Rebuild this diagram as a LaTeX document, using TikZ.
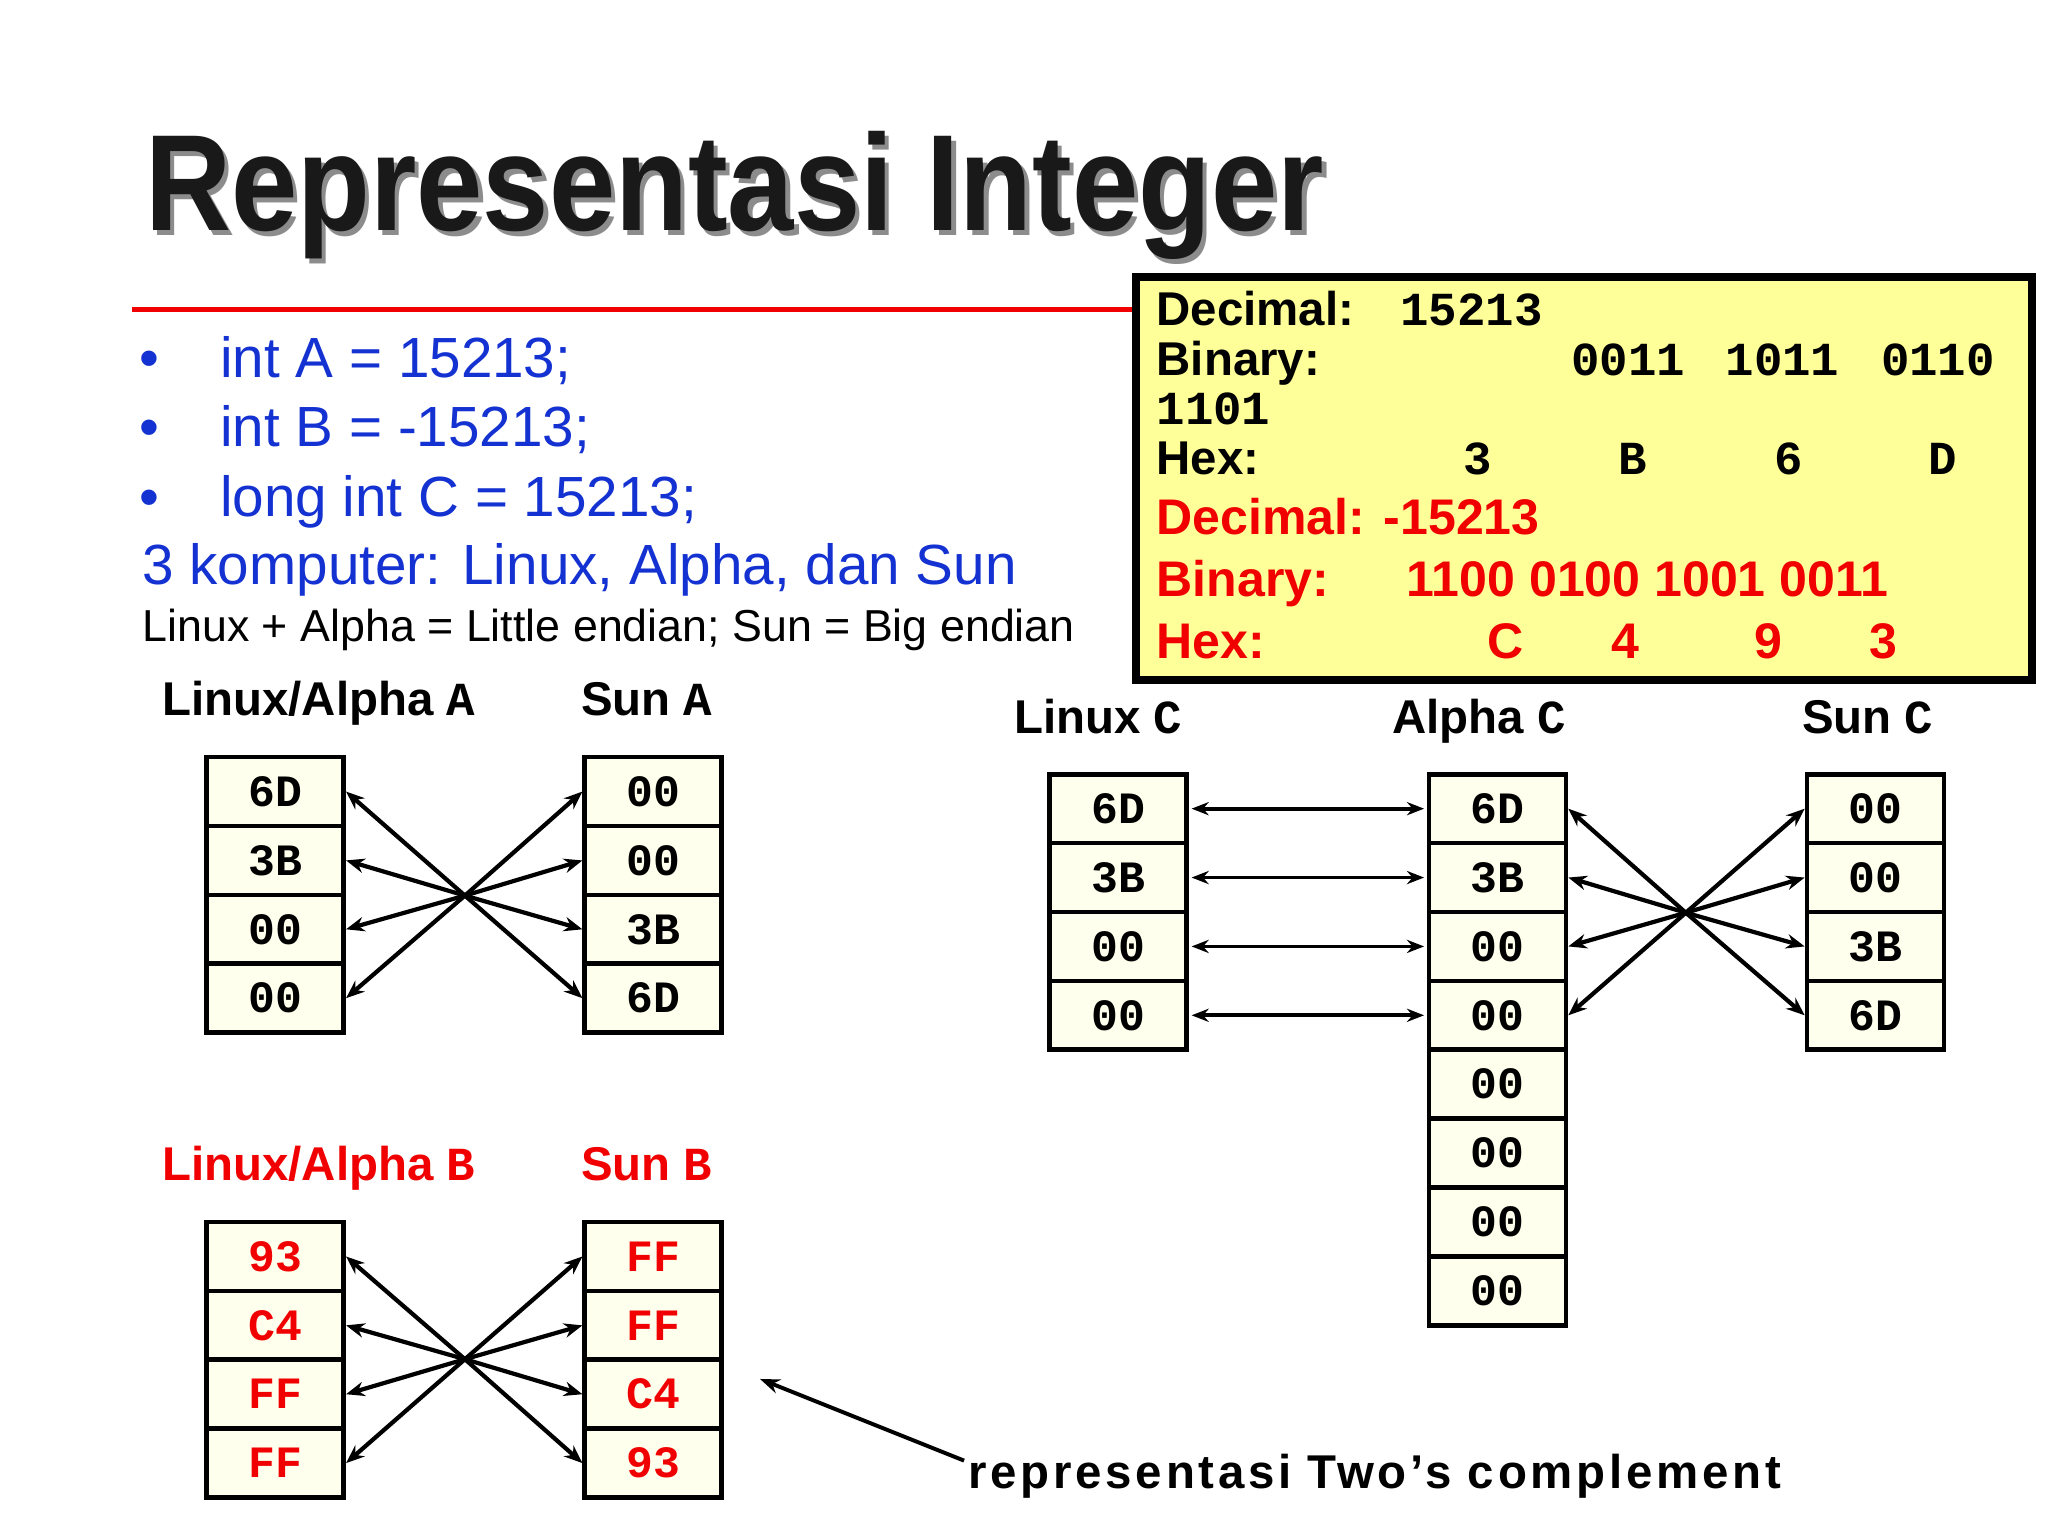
\documentclass[tikz,border=0pt]{standalone}
\usepackage{fontspec}
\setmainfont{Liberation Sans}
\newfontfamily\mono{Liberation Mono}
\usetikzlibrary{arrows.meta}
\definecolor{cream}{RGB}{255,255,238}
\definecolor{boxy}{RGB}{255,255,153}
\definecolor{myblue}{RGB}{20,50,210}
\definecolor{myred}{RGB}{240,0,0}
\begin{document}
\begin{tikzpicture}[x=1pt,y=-1pt,
  cell/.style={draw,line width=3.5pt,fill=cream,minimum width=104pt,minimum height=52.3pt,inner sep=0pt,font=\fontsize{34}{36}\selectfont\mono\bfseries},
  arr/.style={line width=3.2pt,-{Stealth[length=14pt,width=11pt]}},
  darr/.style={line width=2.8pt,{Stealth[length=13pt,width=10pt]}-{Stealth[length=13pt,width=10pt]}},
  lab/.style={anchor=base west,inner sep=0pt,font=\fontsize{36}{40}\selectfont\bfseries},
  bt/.style={anchor=base west,inner sep=0pt,font=\fontsize{36}{40}\selectfont\bfseries},
  bl/.style={anchor=base west,inner sep=0pt,text=myblue,font=\fontsize{43}{46}\selectfont}]
\useasboundingbox[fill=white] (0,0) rectangle (1555,1166.25);
% title
\node[anchor=base west,inner sep=0pt,font=\fontsize{104}{110}\selectfont\bfseries,xscale=0.87] (title) at (110,175) {\textcolor{black!45}{\rlap{\hspace{4pt}\raisebox{-4pt}{Representasi Integer}}}\textcolor{black!90}{Representasi Integer}};
\draw[myred,line width=4pt] (100,235) -- (862,235);
% bullets
\foreach \t/\y in {{int A = 15213;}/287,{int B = -15213;}/339,{long int C = 15213;}/392}{
  \node[bl] at (106,\y) {\textbullet};
  \node[bl] at (167,\y) {\t};}
\node[bl] (komp) at (108,444) {3 komputer: Linux, Alpha, dan Sun};
\node[anchor=base west,inner sep=0pt,font=\fontsize{34}{38}\selectfont] (endian) at (108,487) {Linux + Alpha = Little endian; Sun = Big endian};
% yellow box
\node[draw,line width=6pt,fill=boxy,minimum width=680pt,minimum height=306pt,inner sep=0pt] (info) at (1202.5,363) {};
\node[bt] at (878,247) {Decimal:};
\node[bt,font=\fontsize{36}{40}\selectfont\mono\bfseries] at (1063,247) {15213};
\node[bt] at (878,285) {Binary:};
\foreach \t/\x in {0011/1193,1011/1310,0110/1428}
  \node[bt,font=\fontsize{36}{40}\selectfont\mono\bfseries] at (\x,285) {\t};
\node[bt,font=\fontsize{36}{40}\selectfont\mono\bfseries] at (878,322) {1101};
\node[bt] at (878,360) {Hex:};
\foreach \t/\x in {3/1122,B/1240,6/1358,D/1475}
  \node[anchor=base,inner sep=0pt,font=\fontsize{36}{40}\selectfont\mono\bfseries] at (\x,360) {\t};
\begin{scope}[every node/.append style={text=myred,font=\fontsize{38}{42}\selectfont\bfseries}]
\node[bt,text=myred,font=\fontsize{38}{42}\selectfont\bfseries] at (878,406) {Decimal: -15213};
\node[bt,text=myred,font=\fontsize{38}{42}\selectfont\bfseries] at (878,453) {Binary:};
\node[bt,text=myred,font=\fontsize{38}{42}\selectfont\bfseries] at (1068,453) {1100 0100 1001 0011};
\node[bt,text=myred,font=\fontsize{38}{42}\selectfont\bfseries] at (878,500) {Hex:};
\foreach \t/\x in {C/1143,4/1234,9/1343,3/1430}
  \node[anchor=base,inner sep=0pt] at (\x,500) {\t};
\end{scope}
% labels
\node[lab] at (123,543) {Linux/Alpha {\mono A}};
\node[lab] at (441,543) {Sun {\mono A}};
\node[lab,text=myred] at (123,896) {Linux/Alpha {\mono B}};
\node[lab,text=myred] at (441,896) {Sun {\mono B}};
\node[lab] at (770,557) {Linux {\mono C}};
\node[lab] at (1057,557) {Alpha {\mono C}};
\node[lab] at (1368,557) {Sun {\mono C}};
% A
\foreach \t [count=\i] in {6D,3B,00,00} \node[cell] (la\i) at (209,{601+52.3*(\i-1)}) {\t};
\foreach \t [count=\i] in {00,00,3B,6D} \node[cell] (sa\i) at (496,{601+52.3*(\i-1)}) {\t};
\coordinate (xa) at (353,680);
\foreach \i in {1,...,4}{\draw[arr] (xa) -- (la\i.east); \draw[arr] (xa) -- (sa\i.west);}
% B
\foreach \t [count=\i] in {93,C4,FF,FF} \node[cell,text=myred] (lb\i) at (209,{954+52.3*(\i-1)}) {\t};
\foreach \t [count=\i] in {FF,FF,C4,93} \node[cell,text=myred] (sb\i) at (496,{954+52.3*(\i-1)}) {\t};
\coordinate (xb) at (353,1032);
\foreach \i in {1,...,4}{\draw[arr] (xb) -- (lb\i.east); \draw[arr] (xb) -- (sb\i.west);}
% C
\foreach \t [count=\i] in {6D,3B,00,00} \node[cell] (lc\i) at (849,{614+52.3*(\i-1)}) {\t};
\foreach \t [count=\i] in {6D,3B,00,00,00,00,00,00} \node[cell] (ac\i) at (1137,{614+52.3*(\i-1)}) {\t};
\foreach \t [count=\i] in {00,00,3B,6D} \node[cell] (sc\i) at (1424,{614+52.3*(\i-1)}) {\t};
\coordinate (xc) at (1280,693);
\foreach \i in {1,...,4}{
  \draw[darr] ([xshift=2pt]lc\i.east) -- ([xshift=-2pt]ac\i.west);
  \draw[arr] (xc) -- (ac\i.east); \draw[arr] (xc) -- (sc\i.west);}
% two's complement
\node[anchor=base west,inner sep=0pt,font=\fontsize{36}{40}\selectfont\bfseries,text width=700pt] (tc) at (735,1130) {\addfontfeatures{LetterSpace=8}representasi Two’s complement};
\coordinate (tcs) at (732,1109);
\draw[line width=3pt,-{Stealth[length=15pt,width=11pt]}] (tcs) -- (577,1047);
\end{tikzpicture}
\end{document}
